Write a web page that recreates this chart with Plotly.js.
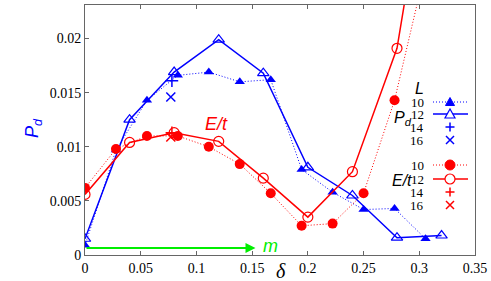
<!DOCTYPE html>
<html><head><meta charset="utf-8">
<script src="https://cdn.plot.ly/plotly-3.0.1.min.js"></script>
<style>html,body{margin:0;padding:0;background:#fff}#c{width:491px;height:281px}</style>
</head><body><div id="c"></div>
<script>
// ---- data ----
const delta10 = [0, 0.0278, 0.0556, 0.0833, 0.1111, 0.1389, 0.1667, 0.1944, 0.2222, 0.25, 0.2778, 0.3056];
const delta12 = [0, 0.04, 0.08, 0.12, 0.16, 0.2, 0.24, 0.28, 0.32];
const pd10 = [0.0009, 0.0097, 0.0143, 0.0166, 0.0169, 0.0160, 0.0162, 0.0079, 0.0058, 0.0042, 0.0043, 0.0015];
const pd12 = [0.0015, 0.0125, 0.0169, 0.0199, 0.0168, 0.0081, 0.0055, 0.0016, 0.0018];
const delta14 = [0.078];
const pd14 = [0.0161];
const delta16 = [0.077];
const pd16 = [0.0146];
const et10 = [0.0062, 0.0098, 0.0110, 0.0110, 0.0100, 0.0084, 0.0057, 0.0027, 0.0029, 0.0057, 0.0143, 0.0265];
const et12 = [0.0056, 0.0104, 0.0113, 0.0105, 0.0071, 0.0035, 0.0077, 0.0191, 0.044];
const et14 = [0.0113];
const et16 = [0.0109];
const xTicks = [0, 0.05, 0.1, 0.15, 0.2, 0.25, 0.3, 0.35];
const xTickText = ['0', '0.05', '0.1', '0.15', '0.2', '0.25', '0.3', '0.35'];
const yTicks = [0, 0.005, 0.01, 0.015, 0.02];
const yTickText = ['0', '0.005', '0.01', '0.015', '0.02'];
const legendRows = ['10', '12', '14', '16'];

const BLUE = '#0000ff', RED = '#ff0000', GREEN = '#00ee00';
const DOT = '1px,2px';

const traces = [
  {x: delta10, y: pd10, mode: 'lines+markers', line: {color: BLUE, width: 1, dash: DOT},
   marker: {symbol: 'triangle-up', size: 9, color: BLUE}},
  {x: delta12, y: pd12, mode: 'lines+markers', line: {color: BLUE, width: 1.5},
   marker: {symbol: 'triangle-up-open', size: 10, color: BLUE, line: {width: 1.2}}},
  {x: delta14, y: pd14, mode: 'markers', marker: {symbol: 'cross-thin-open', size: 9, color: BLUE, line: {width: 1.5, color: BLUE}}},
  {x: delta16, y: pd16, mode: 'markers', marker: {symbol: 'x-thin-open', size: 9, color: BLUE, line: {width: 1.5, color: BLUE}}},
  {x: delta10, y: et10, mode: 'lines+markers', line: {color: RED, width: 1, dash: DOT},
   marker: {symbol: 'circle', size: 10, color: RED}},
  {x: delta12, y: et12, mode: 'lines+markers', line: {color: RED, width: 1.5},
   marker: {symbol: 'circle-open', size: 10, color: RED, line: {width: 1.2}}},
  {x: delta14, y: et14, mode: 'markers', marker: {symbol: 'cross-thin-open', size: 9, color: RED, line: {width: 1.5, color: RED}}},
  {x: delta16, y: et16, mode: 'markers', marker: {symbol: 'x-thin-open', size: 9, color: RED, line: {width: 1.5, color: RED}}}
];

// legend drawn as decoration (pixel -> paper helpers)
const L = 85, R = 475, T = 5, B = 255;
const px = v => (v - L) / (R - L);
const py = v => (B - v) / (B - T);
const blueRowsY = [102, 114, 127, 140];
const redRowsY = [165, 179, 192, 205];
const annotations = [];
const shapes = [];
const serif = 'Liberation Serif';
const sansI = 'Liberation Sans';

function rowText(txt, yPix) {
  annotations.push({xref: 'paper', yref: 'paper', x: px(426), y: py(yPix), text: txt,
    showarrow: false, xanchor: 'right', yanchor: 'middle', font: {family: serif, size: 13, color: '#000'}});
}
function sample(yPix, color, dash, kind) {
  const xa = px(450), ya = py(yPix);
  if (dash !== null) {
    shapes.push({type: 'line', xref: 'paper', yref: 'paper', x0: px(433), x1: px(468), y0: ya, y1: ya,
      line: {color: color, width: dash === DOT ? 1 : 1.5, dash: dash}});
  }
  const base = {xref: 'paper', yref: 'paper', xsizemode: 'pixel', ysizemode: 'pixel', xanchor: xa, yanchor: ya};
  if (kind === 'tri') shapes.push(Object.assign({type: 'path', path: 'M-4.5,-3.5 L4.5,-3.5 L0,4.5 Z', fillcolor: color, line: {color: color, width: 1}}, base));
  if (kind === 'triO') shapes.push(Object.assign({type: 'path', path: 'M-5,-4 L5,-4 L0,5 Z', fillcolor: '#fff', line: {color: color, width: 1.2}}, base));
  if (kind === 'cir') shapes.push(Object.assign({type: 'circle', x0: -5, x1: 5, y0: -5, y1: 5, fillcolor: color, line: {color: color, width: 1}}, base));
  if (kind === 'cirO') shapes.push(Object.assign({type: 'circle', x0: -5, x1: 5, y0: -5, y1: 5, fillcolor: '#fff', line: {color: color, width: 1.2}}, base));
  if (kind === 'plus') shapes.push(Object.assign({type: 'path', path: 'M-4.5,0 L4.5,0 M0,-4.5 L0,4.5', line: {color: color, width: 1.5}}, base));
  if (kind === 'x') shapes.push(Object.assign({type: 'path', path: 'M-4,-4 L4,4 M-4,4 L4,-4', line: {color: color, width: 1.5}}, base));
}
const kindsB = ['tri', 'triO', 'plus', 'x'];
const kindsR = ['cir', 'cirO', 'plus', 'x'];
const dashes = [DOT, 'solid', null, null];
legendRows.forEach((t, i) => {
  rowText(t, blueRowsY[i]); sample(blueRowsY[i], BLUE, dashes[i], kindsB[i]);
  rowText(t, redRowsY[i]); sample(redRowsY[i], RED, dashes[i], kindsR[i]);
});
function lab(xp, yp, text, font, extra) {
  annotations.push(Object.assign({xref: 'paper', yref: 'paper', x: px(xp), y: py(yp), text: text, showarrow: false,
    xanchor: 'center', yanchor: 'middle', font: font}, extra || {}));
}
lab(419, 89, '<i>L</i>', {family: sansI, size: 16, color: '#000'});
lab(414, 119, '<i>P<sub>d</sub></i>', {family: sansI, size: 16, color: '#000'}, {xanchor: 'right'});
lab(414, 180, '<i>E/t</i>', {family: sansI, size: 16, color: '#000'}, {xanchor: 'right'});
// in-plot labels
lab(216, 124, '<i>E/t</i>', {family: sansI, size: 18, color: RED});
annotations.push({xref: 'x', yref: 'y', axref: 'x', ayref: 'y', x: 0.153, y: 0.00065, ax: 0, ay: 0.00065,
  text: '', showarrow: true, arrowhead: 2, arrowsize: 1, arrowwidth: 2, arrowcolor: GREEN, standoff: 0});
lab(270, 246, '<i>m</i>', {family: sansI, size: 18, color: GREEN});
// axis titles
lab(281, 271, '<i>δ</i>', {family: serif, size: 20, color: '#000'});
lab(33, 128, '<i>P<sub>d</sub></i>', {family: sansI, size: 18, color: BLUE}, {textangle: -90});

const layout = {
  width: 491, height: 281,
  margin: {l: L, r: 491 - R, t: T, b: 281 - B},
  paper_bgcolor: '#fff', plot_bgcolor: '#fff',
  showlegend: false,
  xaxis: {range: [0, 0.35], tickvals: xTicks, ticktext: xTickText, showgrid: false, zeroline: false,
    showline: true, linecolor: '#666', linewidth: 1, mirror: 'ticks', ticks: 'inside', ticklen: 4, tickcolor: '#666',
    tickfont: {family: serif, size: 14, color: '#000'}},
  yaxis: {range: [0, 0.0231], tickvals: yTicks, ticktext: yTickText, showgrid: false, zeroline: false,
    showline: true, linecolor: '#666', linewidth: 1, mirror: true, ticks: 'inside', ticklen: 4, tickcolor: '#666',
    tickfont: {family: serif, size: 14, color: '#000'}},
  annotations: annotations,
  shapes: shapes
};
Plotly.newPlot('c', traces, layout, {staticPlot: true, displayModeBar: false});
</script>
</body></html>
